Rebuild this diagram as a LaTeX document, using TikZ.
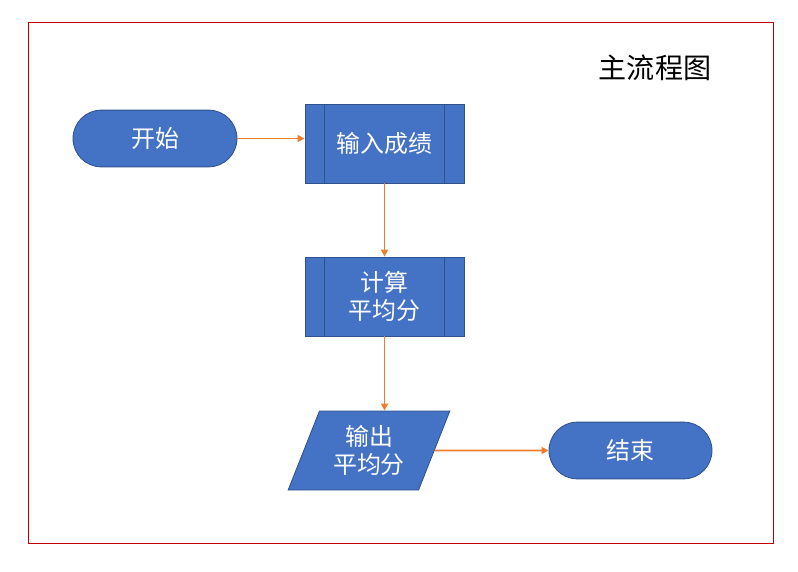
\documentclass[tikz,border=0pt]{standalone}
\usepackage{fontspec}
\newfontfamily\cjk{Noto Sans CJK SC}
\usetikzlibrary{positioning,arrows.meta,shapes.geometric}
\definecolor{boxblue}{HTML}{4472C4}
\definecolor{boxline}{HTML}{2F528F}
\definecolor{flow}{HTML}{ED7D31}
\definecolor{frame}{HTML}{C00000}

\begin{document}
\begin{tikzpicture}[
    >={Triangle[length=5pt,width=5pt]},
    font=\cjk\fontsize{17}{20}\selectfont,
    terminal/.style={draw=boxline, fill=boxblue, text=white, line width=0.6pt,
      rounded corners=0.71cm, minimum width=4.1cm, minimum height=1.42cm},
    process/.style={draw=boxline, fill=boxblue, text=white, line width=0.6pt,
      minimum width=3.975cm, minimum height=1.975cm, align=center},
    io/.style={draw=boxline, fill=boxblue, text=white, line width=0.6pt,
      trapezium, trapezium left angle=69.2, trapezium right angle=110.8,
      trapezium stretches=true, minimum width=4.05cm, minimum height=1.975cm,
      align=center, inner xsep=0pt},
    flowline/.style={->, draw=flow, fill=flow, line width=1.1pt},
  ]
  \useasboundingbox (0,0) rectangle (19.95,14.275);

  % ============================================================
  % Frame and title
  % ============================================================
  \draw[frame, line width=0.6pt] (0.7,0.7) rectangle (19.325,13.725);
  \node[font=\cjk\fontsize{20}{24}\selectfont] (title) at (16.375,12.575) {主流程图};

  % ============================================================
  % Blocks
  % ============================================================
  \node[terminal] (start) at (3.875,10.8125) {开始};
  \node[process] (input) at (9.6125,10.6875) {输入成绩};
  \node[process] (calc) at (9.6125,6.8625) {计算\\平均分};
  \node[io] (output) at (9.225,3.0125) {输出\\平均分};
  \node[terminal, minimum width=4.075cm] (stop) at (15.7625,3.0125) {结束};

  % side bars of the process blocks
  \foreach \n in {input, calc} {
    \draw[boxline, line width=0.6pt] ([xshift=0.5cm]\n.north west) -- ([xshift=0.5cm]\n.south west);
    \draw[boxline, line width=0.6pt] ([xshift=-0.5cm]\n.north east) -- ([xshift=-0.5cm]\n.south east);
  }

  % ============================================================
  % Connectors
  % ============================================================
  \draw[flowline] (start.east) -- (start.east -| input.west);
  \draw[flowline] (input.south) -- (calc.north);
  \draw[flowline] (calc.south) -- (calc.south |- output.north);
  \draw[flowline] (output.east) -- (stop.west);

\end{tikzpicture}
\end{document}
